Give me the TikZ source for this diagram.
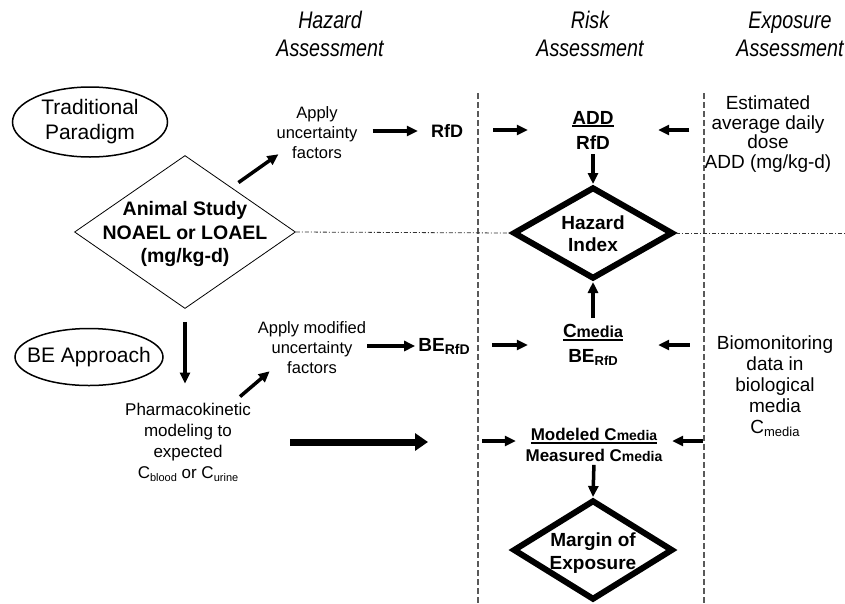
\documentclass[tikz,border=0pt]{standalone}
\usepackage{fontspec}
\setmainfont{Liberation Sans}
\newfontfamily\hdrfont{Liberation Sans}[FakeStretch=0.82]
\usetikzlibrary{shapes.geometric,arrows.meta}
\newcommand\fs[2]{\fontsize{#1}{#2}\selectfont}
\newcommand\ulx[1]{\leavevmode\setbox0=\hbox{#1}\rlap{\rule[-3pt]{\wd0}{1.6pt}}\box0}
\newcommand\subx[2]{\raisebox{-3pt}{\fontsize{#1}{#1}\selectfont #2}}
\begin{document}
\begin{tikzpicture}[x=1pt,y=-1pt,
  hdr/.style={font=\hdrfont\itshape\fs{24}{28}, align=center, inner sep=0},
  txt/.style={align=center, inner sep=0},
  frac/.style={txt, font=\bfseries\fs{19}{25}},
  arr/.style={line width=3.5pt, -{Triangle[length=11pt,width=10pt]}},
  bigarr/.style={line width=7pt, -{Triangle[length=13pt,width=17pt]}},
  sep/.style={draw=gray!70!black, line width=1.2pt, dash pattern=on 6pt off 3pt},
  dd/.style={draw=black!80, line width=0.8pt, dash pattern=on 4pt off 2pt on 1pt off 2pt},
  oval/.style={ellipse, draw, line width=1.5pt, inner sep=0},
  thindia/.style={diamond, draw, line width=0.8pt, minimum width=221pt, minimum height=153pt, inner sep=0},
  thickdia/.style={diamond, draw, line width=6pt, minimum width=160pt, minimum height=92pt, inner sep=0}
]
\useasboundingbox (0,0) rectangle (845,603);

% headers
\node[hdr] (hhaz) at (330,34) {Hazard\\Assessment};
\node[hdr] (hrisk) at (590,34) {Risk\\Assessment};
\node[hdr] (hexp) at (790,34) {Exposure\\Assessment};

% separators
\coordinate (s1t) at (478,93); \coordinate (s1b) at (478,603);
\coordinate (s2t) at (704,93); \coordinate (s2b) at (704,603);
\draw[sep] (s1t) -- (s1b);
\draw[sep] (s2t) -- (s2b);

% left column
\node[oval, minimum width=155pt, minimum height=70pt] (tradov) at (90,122) {};
\node[txt, font=\fs{21}{25}] (trad) at (tradov) {Traditional\\Paradigm};
\node[thindia] (animal) at (185,232) {};
\node[txt, font=\bfseries\fs{19.5}{23.5}] (animaltxt) at (185,234) {Animal Study\\NOAEL or LOAEL\\(mg/kg-d)};
\node[oval, minimum width=148pt, minimum height=57pt] (beov) at (89,357) {};
\node[txt, font=\fs{21}{25}] (be) at (beov) {BE Approach};
\node[txt, font=\fs{17}{21}] (pk) at (188,442) {Pharmacokinetic\\modeling to\\expected\\C\subx{11}{blood} or C\subx{11}{urine}};

% hazard column
\node[txt, font=\fs{16.5}{20}] (apply1) at (317,133) {Apply\\uncertainty\\factors};
\node[txt, font=\bfseries\fs{18}{22}] (rfd) at (447,131) {RfD};
\node[txt, font=\fs{16.5}{20}] (apply2) at (312,348) {Apply modified\\uncertainty\\factors};
\node[txt, font=\bfseries\fs{19}{22}] (berfd) at (444,346) {BE\subx{14}{RfD}};

% risk column
\node[frac, minimum width=130pt] (addfrac) at (593,130) {\ulx{ADD}\\RfD};
\node[thickdia] (hazard) at (593,233) {};
\node[txt, font=\bfseries\fs{19}{22}] (hazardtxt) at (593,234) {Hazard\\Index};
\node[frac, minimum width=130pt] (cfrac) at (593,345) {\ulx{C{\fs{16}{16}media}}\\BE\subx{13}{RfD}};
\node[txt, font=\bfseries\fs{17}{21}, minimum width=156pt] (modfrac) at (594,445) {\ulx{Modeled C{\fs{14}{14}media}}\\Measured C{\fs{14}{14}media}};
\node[thickdia, minimum height=100pt] (margin) at (593,550) {};
\node[txt, font=\bfseries\fs{19}{23}] (margintxt) at (593,553) {Margin of\\Exposure};

% exposure column
\node[txt, font=\fs{19}{19.5}] (est) at (768,134) {Estimated\\average daily\\dose\\ADD (mg/kg-d)};
\node[txt, font=\fs{19}{21}] (bio) at (775,386) {Biomonitoring\\data in\\biological\\media\\C\subx{13}{media}};

% dash-dot divider
\coordinate (ddend) at (845,233);
\draw[dd] (animal.east) -- (hazard.west);
\draw[dd] (hazard.east) -- (ddend);

% connectors
\draw[arr] ([shift={(-2,-11)}]animal.north east) -- ([shift={(2,-5)}]apply1.south west);
\draw[arr, shorten <=15pt, shorten >=13pt] (apply1.east |- rfd.west) -- (rfd.west);
\draw[arr, shorten <=30pt] (rfd.east |- addfrac.west) -- (addfrac.west);
\draw[arr, shorten <=15pt] (est.west |- addfrac.east) -- (addfrac.east);
\draw[arr, shorten <=5pt] (addfrac.south) -- (hazard.north);
\draw[arr, shorten <=6pt] (cfrac.north) -- (hazard.south);
\draw[arr, shorten <=1pt, shorten >=3pt] (apply2.east |- berfd.west) -- (berfd.west);
\draw[arr, shorten <=22pt] (berfd.east |- cfrac.west) -- (cfrac.west);
\draw[arr, shorten <=27pt] (bio.west |- cfrac.east) -- (cfrac.east);
\draw[arr, shorten <=13pt, shorten >=19pt] (animal.south) -- (pk.north -| animal.south);
\draw[arr] ([shift={(-11,-6)}]pk.north east) -- ([shift={(12,-3)}]apply2.south west);
\coordinate (gap1) at (428,442);
\coordinate (gap2) at (482,441);
\draw[bigarr, shorten <=39pt] (pk.east |- gap1) -- (gap1);
\draw[arr] (gap2) -- (gap2 -| modfrac.west);
\draw[arr, shorten <=14pt] (bio.west |- gap2) -- (gap2 -| modfrac.east);
\draw[arr, shorten <=3pt] (modfrac.south) -- (margin.north);
\end{tikzpicture}
\end{document}
